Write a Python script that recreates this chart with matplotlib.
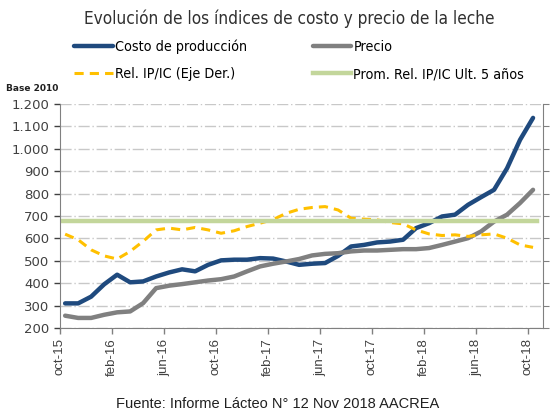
import numpy as np
import matplotlib.pyplot as plt
from matplotlib.ticker import FuncFormatter

# monthly data oct-15 .. oct-18
meses = ['oct-15', 'feb-16', 'jun-16', 'oct-16', 'feb-17', 'jun-17',
         'oct-17', 'feb-18', 'jun-18', 'oct-18']

costo = [310, 310, 340, 395, 438, 404, 408, 430, 448, 462, 453, 482, 502,
         505, 505, 512, 510, 497, 482, 487, 490, 522, 564, 571, 582, 586,
         594, 646, 668, 698, 706, 750, 784, 817, 913, 1040, 1138]
precio = [255, 245, 245, 259, 270, 274, 311, 378, 389, 396, 404, 412, 418,
          430, 453, 475, 487, 497, 508, 524, 531, 534, 542, 546, 546, 549,
          552, 552, 557, 571, 586, 601, 631, 675, 706, 758, 817]
rel_ip_ic = [619, 594, 549, 522, 508, 542, 587, 638, 646, 638, 649, 638, 623,
             634, 653, 668, 684, 712, 730, 738, 742, 727, 690, 686, 683, 671,
             665, 638, 620, 613, 616, 609, 616, 620, 601, 571, 560]
prom_5 = 677

x = np.arange(len(costo)) + 0.4

plt.rcParams['font.family'] = ['DejaVu Sans']
fig = plt.figure(figsize=(5.55, 4.16), dpi=100)
ax = fig.add_axes([0.108, 0.2115, 0.87, 0.5385])

ax.set_ylim(200, 1200)
ax.set_xlim(0, 37.15)
ax.set_yticks(range(200, 1201, 100))
ax.yaxis.set_major_formatter(FuncFormatter(lambda v, p: f'{int(v):,}'.replace(',', '.')))
ax.grid(axis='y', color='#c8c8c8', linestyle='-.', linewidth=1.0, dashes=(8, 2, 1, 2))
ax.set_axisbelow(True)

ax.plot(x, costo, color='#1f4a7e', lw=3.2, solid_capstyle='round', label='Costo de producción')
ax.plot(x, precio, color='#808080', lw=3.2, solid_capstyle='round', label='Precio')
ax.plot(x, rel_ip_ic, color='#ffc000', lw=2.2, linestyle=(0, (3, 2)), label='Rel. IP/IC (Eje Der.)')
ax.plot([x[0] - 0.2, x[-1] + 0.3], [prom_5, prom_5], color='#c3d69b', lw=3.2,
        label='Prom. Rel. IP/IC Ult. 5 años')

ax.set_xticks(np.arange(0, 37, 4))
ax.set_xticklabels(meses, rotation=90, fontsize=9.5, color='#404040', family='Liberation Sans')
ax.tick_params(axis='y', labelsize=9.5, colors='#404040', length=4, width=1)
ax.tick_params(axis='x', length=4, width=1, color='#808080')
for s in ['left', 'right', 'bottom']:
    ax.spines[s].set_color('#808080')
ax.spines['top'].set_visible(False)

ax2 = ax.twinx()
ax2.set_ylim(200, 1200)
ax2.set_yticks(range(200, 1201, 100))
ax2.set_yticklabels([])
ax2.tick_params(axis='y', length=4, color='#808080')
for s in ax2.spines.values():
    s.set_visible(False)

h, l = ax.get_legend_handles_labels()
order = [0, 2, 1, 3]
fig.legend([h[i] for i in order], [l[i] for i in order], ncol=2, frameon=False,
           loc='upper left', bbox_to_anchor=(0.11, 0.935),
           handlelength=2.7, handletextpad=0.15, columnspacing=4.6, labelspacing=0.9,
           prop={'stretch': 'condensed', 'size': 10.3})

fig.text(0.522, 0.955, 'Evolución de los índices de costo y precio de la leche',
         ha='center', va='center', fontsize=12.3, color='#303030', fontstretch='condensed')
fig.text(0.01, 0.782, 'Base 2010', fontsize=6.5, fontweight='bold', color='#202020')
fig.text(0.5, 0.028, 'Fuente: Informe Lácteo N° 12 Nov 2018 AACREA', ha='center',
         va='center', fontsize=10.5, family='Liberation Sans', color='#202020')

fig.savefig('out.png', dpi=100)
